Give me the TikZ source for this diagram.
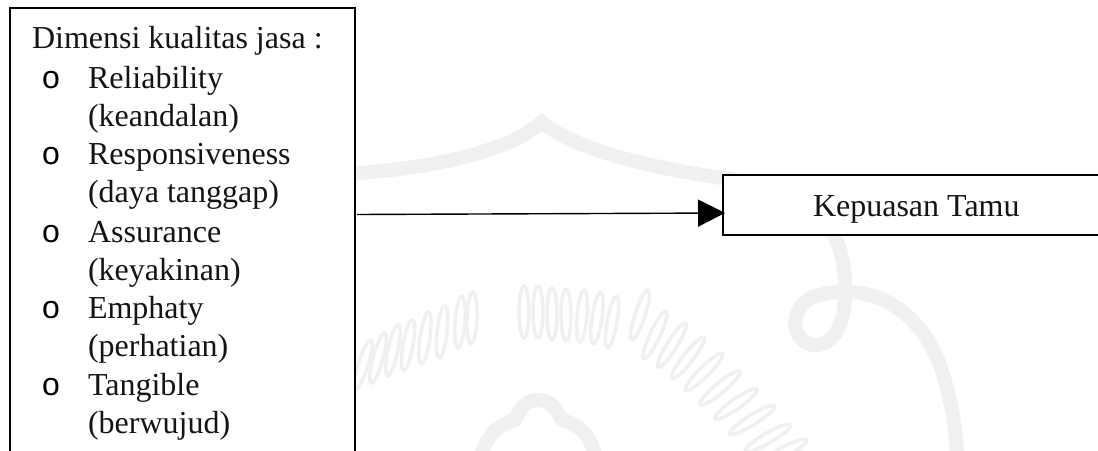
\documentclass[tikz,border=0pt]{standalone}
\usepackage{fontspec}
\setmainfont{Liberation Serif}
\newfontfamily\bulletfont{Liberation Sans}
\usetikzlibrary{arrows.meta}
\definecolor{wm}{gray}{0.94}
\tikzset{
  x=1pt,y=-1pt,
  framebox/.style={draw=black,line width=1.7pt,fill=white,rectangle,inner sep=0pt,outer sep=0pt},
  txt/.style={anchor=base west,inner sep=0pt,outer sep=0pt,font=\fontsize{32}{38}\selectfont,text=black!92},
  bul/.style={anchor=base west,inner sep=0pt,outer sep=0pt,font=\fontsize{32}{38}\selectfont\bulletfont,text=black},
  conn/.style={draw=black,line width=1.4pt,-{Triangle[length=27pt,width=27pt,fill=black]},shorten >=-2pt},
  wmline/.style={draw=wm,line width=14pt,line cap=butt,line join=miter},
  wmloop/.style={draw=wm,line width=3.5pt}
}
\begin{document}
\begin{tikzpicture}
\useasboundingbox (0,0) rectangle (1098,450);
\clip (0,0) rectangle (1098,450);
\fill[white] (0,0) rectangle (1098,450);
% watermark
\draw[wmline,line width=14pt,miter limit=10] (345,174) .. controls (440,168) and (510,150) .. (542,122) .. controls (575,150) and (650,168) .. (735,180);
\draw[wmline] (735,180) .. controls (800,195) and (830,215) .. (840,250) .. controls (850,285) and (848,345) .. (815,345) .. controls (795,345) and (785,315) .. (810,298) .. controls (860,280) and (915,300) .. (940,365) .. controls (950,395) and (955,420) .. (957,455);
\draw[wmline] (481,455) .. controls (490,430) and (500,425) .. (515,420) .. controls (522,405) and (528,400) .. (538,400) .. controls (550,400) and (556,408) .. (562,420) .. controls (580,425) and (590,435) .. (595,455);
\foreach \px/\py/\pr in {
  363/365/-18,378/358/-15,393/350/-12,408/345/-10,425/338/-8,442/332/-6,460/322/-4,472/318/-2,
  524/312/0,538/312/0,552/314/0,566/315/0,582/316/-5,597/318/-8,612/322/-10,
  640/315/-18,655/335/-25,672/345/-32,688/358/-38,704/372/-45,720/388/-50,736/404/-55,752/420/-58,768/438/-60,784/452/-62} {
  \draw[wmloop,shift={(\px,\py)},rotate=\pr] (0,0) ellipse [x radius=5,y radius=26];
}
% boxes
\node[framebox,minimum width=345pt,minimum height=480pt,anchor=north west] (lbox) at (10,8) {};
\node[framebox,minimum width=420pt,minimum height=60pt,anchor=north west] (kbox) at (723,175) {};
% text
\node[txt] (t0) at (32,48) {Dimensi kualitas jasa :};
\node[bul] (b1) at (42,88) {o};
\node[txt] (t1) at (88,88) {Reliability};
\node[txt] (t2) at (88,126) {(keandalan)};
\node[bul] (b2) at (42,164.5) {o};
\node[txt] (t3) at (88,164.5) {Responsiveness};
\node[txt] (t4) at (88,202.5) {(daya tanggap)};
\node[bul] (b3) at (42,242) {o};
\node[txt] (t5) at (88,242) {Assurance};
\node[txt] (t6) at (88,280) {(keyakinan)};
\node[bul] (b4) at (42,318.5) {o};
\node[txt] (t7) at (88,318.5) {Emphaty};
\node[txt] (t8) at (88,356.5) {(perhatian)};
\node[bul] (b5) at (42,395) {o};
\node[txt] (t9) at (88,395) {Tangible};
\node[txt] (t10) at (88,433) {(berwujud)};
\node[txt] (k) at (813,216) {Kepuasan Tamu};
% connector
\draw[conn] ([xshift=2pt,yshift=-206.5pt]lbox.north east) -- ([yshift=-8pt]kbox.west);
\end{tikzpicture}
\end{document}
